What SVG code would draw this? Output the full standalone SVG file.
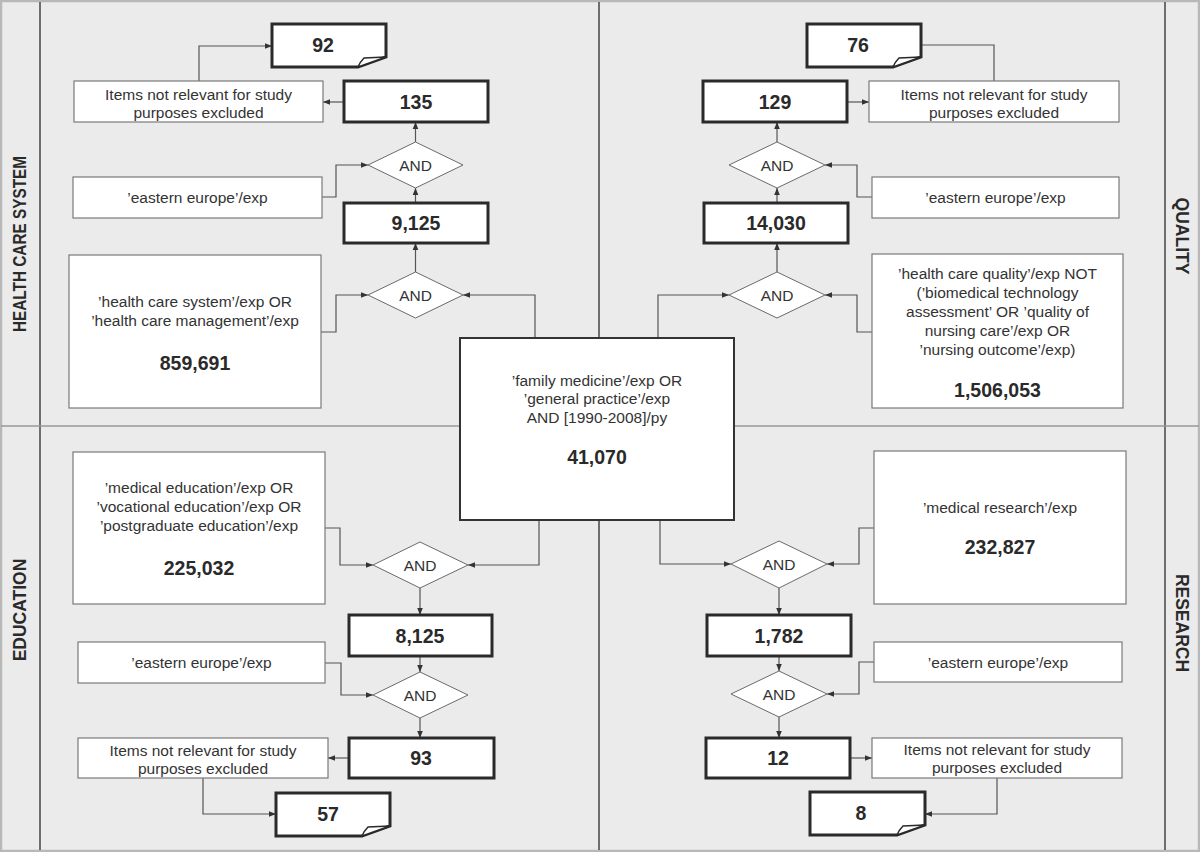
<svg xmlns="http://www.w3.org/2000/svg" width="1200" height="852" viewBox="0 0 1200 852">
<style>
.box{fill:#fff;stroke:#7a7a7a;stroke-width:1.2}
.bold{fill:#fff;stroke:#2a2a2a;stroke-width:3}
.dia{fill:#fff;stroke:#6a6a6a;stroke-width:1}
.fold{fill:#fff;stroke:#2a2a2a;stroke-width:1.5}
.t{font-family:"Liberation Sans",Arial,sans-serif;font-size:15.5px;fill:#333;text-anchor:middle;dominant-baseline:central}
.n{font-weight:bold;font-size:19.5px;fill:#2a2a2a}
.lbl{font-family:"Liberation Sans",Arial,sans-serif;font-weight:bold;font-size:17.5px;fill:#2a2a2a;text-anchor:middle;dominant-baseline:central}
.c{fill:none;stroke:#555;stroke-width:1.2}
.div{stroke:#999;stroke-width:1.6;fill:none}
.dark{stroke:#444;stroke-width:1.5;fill:none}
</style>
<defs>
<marker id="ar" viewBox="0 0 10 10" refX="10" refY="5" markerWidth="7" markerHeight="7" markerUnits="userSpaceOnUse" orient="auto">
<path d="M0,1 L10,5 L0,9 Z" fill="#333"/>
</marker>
</defs>
<g id="background">
<rect x="1" y="1" width="1198" height="850" fill="#eaebea" stroke="#b8b8b8" stroke-width="2.5"/>
<line class="dark" x1="40" y1="2" x2="40" y2="850"/>
<line class="dark" x1="1165" y1="2" x2="1165" y2="850"/>
<line class="dark" x1="599" y1="2" x2="599" y2="338"/>
<line class="dark" x1="599" y1="520" x2="599" y2="850"/>
<line class="div" x1="1" y1="426" x2="460" y2="426"/>
<line class="div" x1="734" y1="426" x2="1199" y2="426"/>
<text class="lbl" transform="translate(20,244) rotate(-90)" textLength="176" lengthAdjust="spacingAndGlyphs">HEALTH CARE SYSTEM</text>
<text class="lbl" transform="translate(20,610) rotate(-90)">EDUCATION</text>
<text class="lbl" transform="translate(1182,236) rotate(90)">QUALITY</text>
<text class="lbl" transform="translate(1182,623) rotate(90)">RESEARCH</text>
</g>
<g id="connectors">
<path class="c" d="M199,81 V46 H272" marker-end="url(#ar)"/>
<path class="c" d="M344,102 H323" marker-end="url(#ar)"/>
<path class="c" d="M415.5,142 V122" marker-end="url(#ar)"/>
<path class="c" d="M415.5,203 V188" marker-end="url(#ar)"/>
<path class="c" d="M415.5,272 V243" marker-end="url(#ar)"/>
<path class="c" d="M322,197 H336 V165 H368" marker-end="url(#ar)"/>
<path class="c" d="M321,332 H336 V295 H368" marker-end="url(#ar)"/>
<path class="c" d="M535,338 V295 H463" marker-end="url(#ar)"/>
<path class="c" d="M847,102 H869" marker-end="url(#ar)"/>
<path class="c" d="M994,81 V45 H921"/>
<path class="c" d="M777,142 V122" marker-end="url(#ar)"/>
<path class="c" d="M777,203 V188" marker-end="url(#ar)"/>
<path class="c" d="M777,272 V243" marker-end="url(#ar)"/>
<path class="c" d="M872,197 H857 V165 H825" marker-end="url(#ar)"/>
<path class="c" d="M872,332 H857 V295 H825" marker-end="url(#ar)"/>
<path class="c" d="M658,338 V295 H729" marker-end="url(#ar)"/>
<path class="c" d="M539,520 V565 H468" marker-end="url(#ar)"/>
<path class="c" d="M325,528 H340 V565 H373" marker-end="url(#ar)"/>
<path class="c" d="M420,588 V615" marker-end="url(#ar)"/>
<path class="c" d="M420,656 V672" marker-end="url(#ar)"/>
<path class="c" d="M325,663 H341 V695 H373" marker-end="url(#ar)"/>
<path class="c" d="M420,718 V738" marker-end="url(#ar)"/>
<path class="c" d="M349,758 H328" marker-end="url(#ar)"/>
<path class="c" d="M203,778 V814 H276" marker-end="url(#ar)"/>
<path class="c" d="M660,520 V564 H731" marker-end="url(#ar)"/>
<path class="c" d="M874,528 H859 V564 H827" marker-end="url(#ar)"/>
<path class="c" d="M779,588 V615" marker-end="url(#ar)"/>
<path class="c" d="M779,656 V671" marker-end="url(#ar)"/>
<path class="c" d="M874,662 H859 V694 H827" marker-end="url(#ar)"/>
<path class="c" d="M779,717 V738" marker-end="url(#ar)"/>
<path class="c" d="M850,758 H872" marker-end="url(#ar)"/>
<path class="c" d="M997,778 V814 H925" marker-end="url(#ar)"/>
</g>
<g id="n92">
<path class="bold" d="M272,24 H386 V57 L358,67 H272 Z"/>
<path class="fold" d="M386,57 L364,58 Q360,62 358,67 Z"/>
<text class="t n" x="323" y="45">92</text>
</g>
<g id="itemsTL">
<rect class="box" x="74" y="81" width="249" height="41"/>
<text class="t" x="198.5" y="94">Items not relevant for study</text>
<text class="t" x="198.5" y="112">purposes excluded</text>
</g>
<g id="n135"><rect class="bold" x="344" y="81" width="144" height="41"/><text class="t n" x="416" y="102">135</text></g>
<g id="andTL1"><polygon class="dia" points="368,165 415.5,142 463,165 415.5,188"/><text class="t" x="415.5" y="165">AND</text></g>
<g id="easternTL"><rect class="box" x="73" y="177" width="249" height="41"/><text class="t" x="197.5" y="197">’eastern europe’/exp</text></g>
<g id="n9125"><rect class="bold" x="344" y="203" width="144" height="40"/><text class="t n" x="416" y="223">9,125</text></g>
<g id="andTL2"><polygon class="dia" points="368,295 415.5,272 463,295 415.5,318"/><text class="t" x="415.5" y="295">AND</text></g>
<g id="hcs">
<rect class="box" x="69" y="255" width="252" height="153"/>
<text class="t" x="195" y="301">’health care system’/exp OR</text>
<text class="t" x="195" y="320">’health care management’/exp</text>
<text class="t n" x="195" y="363">859,691</text>
</g>
<g id="n76">
<path class="bold" d="M807,24 H921 V57 L893,67 H807 Z"/>
<path class="fold" d="M921,57 L899,58 Q895,62 893,67 Z"/>
<text class="t n" x="858" y="45">76</text>
</g>
<g id="n129"><rect class="bold" x="703" y="81" width="144" height="41"/><text class="t n" x="775" y="102">129</text></g>
<g id="itemsTR">
<rect class="box" x="869" y="81" width="250" height="41"/>
<text class="t" x="994" y="94">Items not relevant for study</text>
<text class="t" x="994" y="112">purposes excluded</text>
</g>
<g id="andTR1"><polygon class="dia" points="729,165 777,142 825,165 777,188"/><text class="t" x="777" y="165">AND</text></g>
<g id="easternTR"><rect class="box" x="872" y="177" width="247" height="41"/><text class="t" x="995.5" y="197">’eastern europe’/exp</text></g>
<g id="n14030"><rect class="bold" x="704" y="203" width="144" height="40"/><text class="t n" x="776" y="223">14,030</text></g>
<g id="andTR2"><polygon class="dia" points="729,295 777,272 825,295 777,318"/><text class="t" x="777" y="295">AND</text></g>
<g id="quality">
<rect class="box" x="872" y="254" width="251" height="154"/>
<text class="t" x="997.5" y="273">’health care quality’/exp NOT</text>
<text class="t" x="997.5" y="292">(’biomedical technology</text>
<text class="t" x="997.5" y="311">assessment’ OR ’quality of</text>
<text class="t" x="997.5" y="330">nursing care’/exp OR</text>
<text class="t" x="997.5" y="349">’nursing outcome’/exp)</text>
<text class="t n" x="997.5" y="390">1,506,053</text>
</g>
<g id="central">
<rect x="460" y="338" width="274" height="182" fill="#fff" stroke="#333" stroke-width="2"/>
<text class="t" x="597" y="380">’family medicine’/exp OR</text>
<text class="t" x="597" y="398">’general practice’/exp</text>
<text class="t" x="597" y="417">AND [1990-2008]/py</text>
<text class="t n" x="597" y="457">41,070</text>
</g>
<g id="education">
<rect class="box" x="73" y="452" width="252" height="152"/>
<text class="t" x="199" y="487">’medical education’/exp OR</text>
<text class="t" x="199" y="506">’vocational education’/exp OR</text>
<text class="t" x="199" y="525">’postgraduate education’/exp</text>
<text class="t n" x="199" y="568">225,032</text>
</g>
<g id="andBL1"><polygon class="dia" points="373,565 420,542 468,565 420,588"/><text class="t" x="420" y="565">AND</text></g>
<g id="n8125"><rect class="bold" x="349" y="615" width="143" height="41"/><text class="t n" x="420" y="636">8,125</text></g>
<g id="easternBL"><rect class="box" x="78" y="642" width="247" height="41"/><text class="t" x="201.5" y="662">’eastern europe’/exp</text></g>
<g id="andBL2"><polygon class="dia" points="373,695 420,672 468,695 420,718"/><text class="t" x="420" y="695">AND</text></g>
<g id="n93"><rect class="bold" x="349" y="738" width="145" height="40"/><text class="t n" x="421" y="758">93</text></g>
<g id="itemsBL">
<rect class="box" x="78" y="738" width="250" height="40"/>
<text class="t" x="203" y="750">Items not relevant for study</text>
<text class="t" x="203" y="768">purposes excluded</text>
</g>
<g id="n57">
<path class="bold" d="M276,793 H390 V826 L362,836 H276 Z"/>
<path class="fold" d="M390,826 L368,827 Q364,831 362,836 Z"/>
<text class="t n" x="328" y="814">57</text>
</g>
<g id="research">
<rect class="box" x="874" y="451" width="252" height="153"/>
<text class="t" x="1000" y="507">’medical research’/exp</text>
<text class="t n" x="1000" y="547">232,827</text>
</g>
<g id="andBR1"><polygon class="dia" points="731,564 779,541 827,564 779,588"/><text class="t" x="779" y="564">AND</text></g>
<g id="n1782"><rect class="bold" x="707" y="615" width="144" height="41"/><text class="t n" x="779" y="636">1,782</text></g>
<g id="easternBR"><rect class="box" x="874" y="642" width="248" height="40"/><text class="t" x="998" y="662">’eastern europe’/exp</text></g>
<g id="andBR2"><polygon class="dia" points="731,694 779,671 827,694 779,717"/><text class="t" x="779" y="694">AND</text></g>
<g id="n12"><rect class="bold" x="706" y="738" width="144" height="40"/><text class="t n" x="778" y="758">12</text></g>
<g id="itemsBR">
<rect class="box" x="872" y="738" width="250" height="40"/>
<text class="t" x="997" y="749">Items not relevant for study</text>
<text class="t" x="997" y="767">purposes excluded</text>
</g>
<g id="n8">
<path class="bold" d="M810,792 H925 V825 L897,835 H810 Z"/>
<path class="fold" d="M925,825 L903,826 Q899,830 897,835 Z"/>
<text class="t n" x="861" y="813">8</text>
</g>
</svg>
